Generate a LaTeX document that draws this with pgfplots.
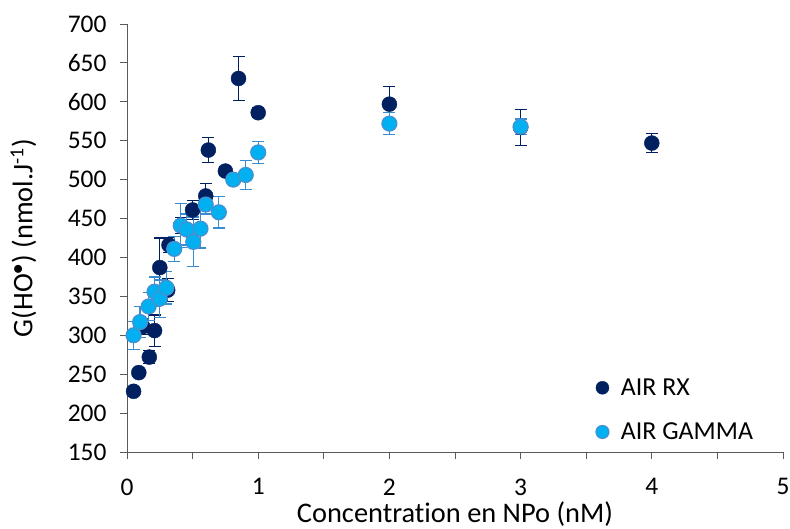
\documentclass[border=0pt]{standalone}
\usepackage{pgfplots}
\pgfplotsset{compat=1.18}
\usepackage{fontspec}
\setmainfont{Carlito}[Ligatures=NoCommon]
\definecolor{darkb}{HTML}{002060}
\definecolor{lightb}{HTML}{00B0F0}
\definecolor{lightedge}{HTML}{4A90D0}
\definecolor{lighterr}{HTML}{3A8CD0}
\definecolor{axgray}{HTML}{595959}
\begin{document}
\begin{tikzpicture}
\path[use as bounding box] (-127bp,-77bp) rectangle (663bp,452bp);
\begin{axis}[
  at={(0,0)}, anchor=south west,
  scale only axis, width=656bp, height=428bp,
  xmin=0, xmax=5, ymin=150, ymax=700,
  axis lines=left,
  axis line style={axgray, line width=0.9pt, -},
  xtick={0,1,2,3,4,5},
  minor xtick={0.5,1.5,2.5,3.5,4.5},
  ytick={150,200,...,700},
  tick align=outside,
  major tick length=7bp, minor tick length=7bp,
  tick style={axgray, line width=0.9pt},
  every tick label/.append style={font=\fontsize{25.5}{27}\selectfont, text=black},
  yticklabel style={xshift=-10bp},
  xticklabel style={yshift=-16bp},
  /pgf/number format/assume math mode=true,
  xlabel={Concentration en NPo (nM)},
  ylabel={G(HO$^{\bullet}$) (nmol.J\textsuperscript{-1})},
  label style={font=\fontsize{28.5}{30}\selectfont},
  xlabel style={at={(axis description cs:0.5,0)}, anchor=north, yshift=-46bp},
  ylabel style={at={(axis description cs:-0.133,0.5)}, anchor=south},
  legend style={draw=none, fill=none, at={(axis description cs:0.71,0.181)}, anchor=north west,
    font=\fontsize{26}{28}\selectfont, row sep=22bp, legend cell align=left,
    /tikz/every odd column/.append style={column sep=10bp}},
  legend image post style={mark size=6.5bp},
  clip=false,
]
\addplot[only marks, mark=*, mark size=7.5bp, mark options={fill=darkb, draw=darkb},
  error bars/.cd, y dir=both, y explicit,
  error bar style={darkb, line width=1.3pt},
  error mark options={rotate=90, mark size=6bp, darkb, line width=1.3pt}]
  table[x=x, y=y, y error=e] {
x y e
0.05 228 5
0.09 252 4
0.12 311 10
0.17 272 8
0.21 306 20
0.25 387 38
0.31 358 15
0.32 416 10
0.41 441 10
0.5 461 12
0.6 479 16
0.62 538 16
0.75 511 6
0.85 630 28
1.0 586 6
2.0 597 23
3.0 567 23
4.0 547 12
};
\addlegendentry{AIR RX}
\addplot[only marks, mark=*, mark size=7.5bp, mark options={fill=lightb, draw=lightedge, line width=1.2pt},
  error bars/.cd, y dir=both, y explicit,
  error bar style={lighterr, line width=1.3pt},
  error mark options={rotate=90, mark size=6bp, lighterr, line width=1.3pt}]
  table[x=x, y=y, y error=e] {
x y e
0.05 300 18
0.1 317 20
0.165 337 18
0.21 356 19
0.25 347 24
0.3 361 21
0.36 411 16
0.41 441 28
0.455 436 20
0.505 420 32
0.56 437 25
0.6 468 12
0.7 458 20
0.81 500 6
0.905 506 19
1.0 535 14
2.0 572 14
3.0 568 10
};
\addlegendentry{AIR GAMMA}
\end{axis}
\end{tikzpicture}
\end{document}
